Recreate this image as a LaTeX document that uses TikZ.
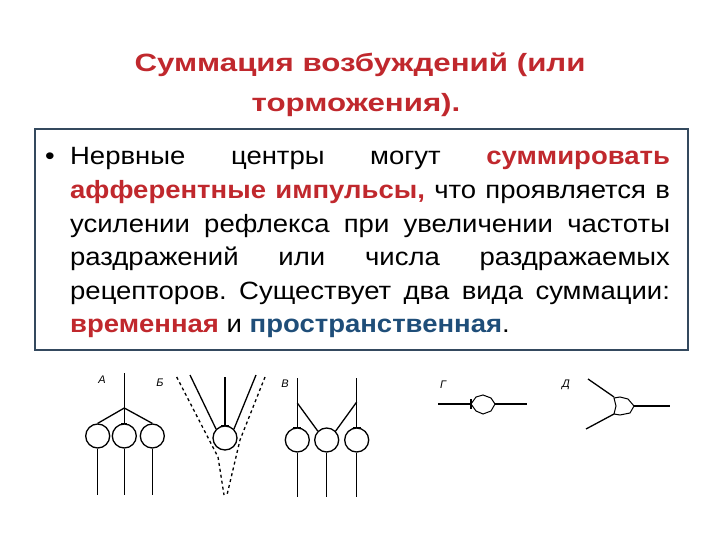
\documentclass[tikz,border=0pt]{standalone}
\usepackage{fontspec}
\setmainfont{Liberation Sans}
\frenchspacing
\definecolor{tred}{HTML}{C0282D}
\definecolor{tblue}{HTML}{1F4E79}
\definecolor{boxc}{HTML}{34495E}
\begin{document}
\begin{tikzpicture}[x=1pt,y=-1pt,
  ln/.style={line width=1.3pt},
  cell/.style={circle,draw,line width=1.3pt,minimum size=24pt,inner sep=0pt},
  lab/.style={font=\fontsize{11}{11}\selectfont\itshape},
  bar/.style={line width=1.6pt},
  ttl/.style={font=\fontsize{25}{30}\selectfont\bfseries,text=tred,anchor=base,inner sep=0pt}]
\useasboundingbox (0,0) rectangle (720,540);
\node[ttl] (title1) at (360,72) {\scalebox{1.25}[1]{Суммация возбуждений (или}};
\node[ttl] (title2) at (356,112) {\scalebox{1.25}[1]{торможения).}};
\draw[boxc,line width=2.5pt] (35,129) rectangle (688,350);
\node[anchor=base west,inner sep=0pt] (body) at (45,165) {\scalebox{1.1}[1]{\parbox[t]{568pt}{\fontsize{25}{33.6}\selectfont\hangindent=22.7pt\hangafter=1\noindent\makebox[22.7pt][l]{•}Нервные центры могут \textcolor{tred}{\bfseries суммировать}\linebreak \textcolor{tred}{\bfseries афферентные импульсы,} что проявляется в\linebreak усилении рефлекса при увеличении частоты\linebreak раздражений или числа раздражаемых\linebreak рецепторов. Существует два вида суммации:\linebreak \textcolor{tred}{\bfseries временная} и \textcolor{tblue}{\bfseries пространственная}.}}};
% A
\node[lab] (la) at (102,380) {А};
\node[cell] (a1) at (97.7,436) {};
\node[cell] (a2) at (124.3,436) {};
\node[cell] (a3) at (152.3,436) {};
\coordinate (at) at (124.3,373);
\coordinate (ab) at (124.3,408);
\draw[ln] (at) -- (ab);
\draw[ln] (ab) -- (a1.north); \draw[ln] (ab) -- (a2.north); \draw[ln] (ab) -- (a3.north);
\draw[bar] ([xshift=-3pt]a2.north) -- ([xshift=3pt]a2.north);
\coordinate (a1b) at (97.7,495); \coordinate (a2b) at (124.3,495); \coordinate (a3b) at (152.3,495);
\draw[ln] (a1) -- (a1b); \draw[ln] (a2) -- (a2b); \draw[ln] (a3) -- (a3b);
% B
\node[lab] (lb) at (160,383) {Б};
\node[cell] (b1) at (225,438) {};
\coordinate (bt) at (225,377); \coordinate (bl) at (190,375); \coordinate (br) at (256,375);
\draw[ln] (bt) -- (b1.north); \draw[ln] (bl) -- (b1.north west); \draw[ln] (br) -- (b1.north east);
\draw[bar] ([xshift=-4pt]b1.north) -- ([xshift=4pt]b1.north);
\coordinate (d1) at (176.7,377); \coordinate (d2) at (218,457); \coordinate (d3) at (224,495);
\coordinate (e1) at (265,377); \coordinate (e2) at (240,440); \coordinate (e3) at (227,495);
\draw[ln,dashed] (d1) -- (d2) -- (d3);
\draw[ln,dashed] (e1) -- (e2) -- (e3);
% V
\node[lab] (lv) at (285,384) {В};
\node[cell] (v1) at (297.3,440) {};
\node[cell] (v2) at (326.7,440) {};
\node[cell] (v3) at (356.7,440) {};
\coordinate (vt1) at (297.3,378); \coordinate (vt3) at (356.7,378);
\coordinate (vk1) at (297.3,403); \coordinate (vk3) at (356.7,402);
\draw[ln] (vt1) -- (v1.north); \draw[ln] (vt3) -- (v3.north);
\draw[ln] (vk1) -- (v2.north west); \draw[ln] (vk3) -- (v2.north east);
\draw[bar] ([xshift=-4pt]v1.north) -- ([xshift=4pt]v1.north);
\draw[bar] ([xshift=-4pt]v3.north) -- ([xshift=4pt]v3.north);
\coordinate (v1b) at (297.3,497); \coordinate (v2b) at (326.7,497); \coordinate (v3b) at (356.7,497);
\draw[ln] (v1) -- (v1b); \draw[ln] (v2) -- (v2b); \draw[ln] (v3) -- (v3b);
% G
\node[lab] (lg) at (443,385) {Г};
\draw[line width=1pt] (471,404) -- (476,397) -- (483,395) -- (491,398) -- (495,404) -- (491,411) -- (483,414) -- (476,411) -- cycle;
\coordinate (g0) at (438,404); \coordinate (g1) at (471,404); \coordinate (g2) at (495,404); \coordinate (g3) at (527,404);
\draw[ln] (g0) -- (g1); \draw[ln] (g2) -- (g3);
\draw[bar] (471,399) -- (471,409);
% D
\node[lab] (ld) at (566,385) {Д};
\draw[line width=1pt] (614,398) -- (620,397) -- (628,399) -- (634,406) -- (630,413) -- (620,415) -- (614,414) -- (616,406) -- cycle;
\coordinate (h1) at (588,379); \coordinate (h2) at (614,397); \coordinate (h3) at (586,429); \coordinate (h4) at (614,414);
\coordinate (h5) at (634,406); \coordinate (h6) at (670,406);
\draw[ln] (h1) -- (h2); \draw[ln] (h3) -- (h4); \draw[ln] (h5) -- (h6);
\end{tikzpicture}
\end{document}
